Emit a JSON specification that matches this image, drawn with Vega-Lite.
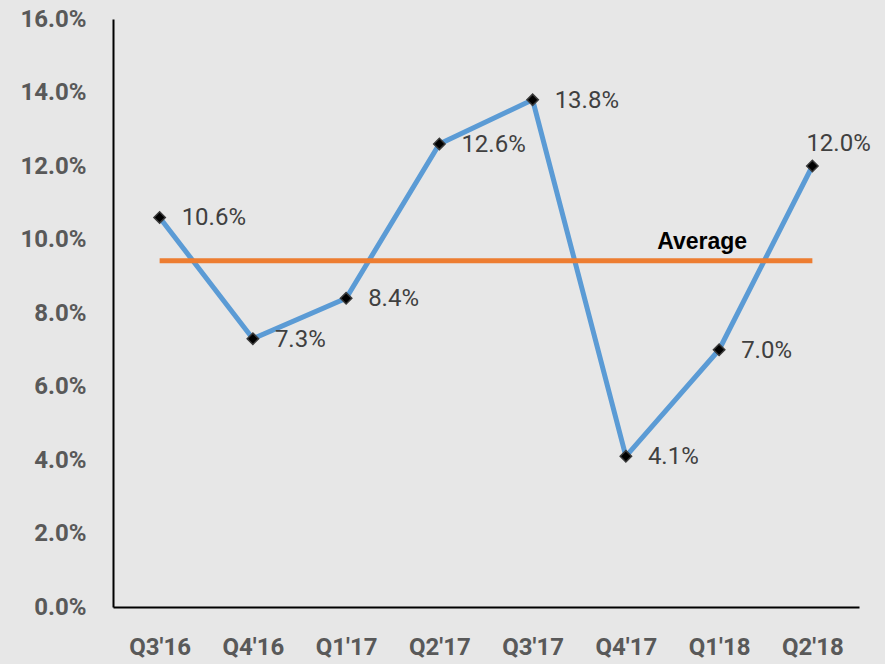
{
  "$schema": "https://vega.github.io/schema/vega-lite/v6.json",
  "width": 746,
  "height": 588,
  "autosize": "none",
  "padding": {"left": 113, "top": 19, "right": 26, "bottom": 57},
  "background": "#e7e7e7",
  "config": {
    "view": {"stroke": null},
    "axis": {
      "grid": false,
      "ticks": false,
      "domainColor": "#000000",
      "domainWidth": 2,
      "labelFont": "Roboto",
      "labelFontWeight": "bold",
      "labelFontSize": 24,
      "labelColor": "#595959",
      "title": null
    }
  },
  "datasets": {
    "series": [
      {"quarter": "Q3'16", "value": 0.106},
      {"quarter": "Q4'16", "value": 0.073},
      {"quarter": "Q1'17", "value": 0.084},
      {"quarter": "Q2'17", "value": 0.126},
      {"quarter": "Q3'17", "value": 0.138},
      {"quarter": "Q4'17", "value": 0.041},
      {"quarter": "Q1'18", "value": 0.070},
      {"quarter": "Q2'18", "value": 0.120}
    ],
    "avg": [
      {"quarter": "Q3'16", "value": 0.0942},
      {"quarter": "Q2'18", "value": 0.0942}
    ],
    "avgLabel": [
      {"quarter": "Q1'18", "value": 0.0942, "label": "Average"}
    ]
  },
  "encoding": {
    "x": {
      "field": "quarter",
      "type": "ordinal",
      "sort": null,
      "scale": {"type": "point", "padding": 0.5, "domain": ["Q3'16", "Q4'16", "Q1'17", "Q2'17", "Q3'17", "Q4'17", "Q1'18", "Q2'18"]},
      "axis": {"labelAngle": 0, "labelPadding": 28}
    },
    "y": {
      "field": "value",
      "type": "quantitative",
      "scale": {"domain": [0, 0.16], "nice": false},
      "axis": {"format": ".1%", "values": [0, 0.02, 0.04, 0.06, 0.08, 0.1, 0.12, 0.14, 0.16], "labelPadding": 27}
    }
  },
  "layer": [
    {
      "data": {"name": "series"},
      "mark": {"type": "line", "color": "#5B9BD5", "strokeWidth": 5}
    },
    {
      "data": {"name": "avg"},
      "mark": {"type": "line", "color": "#ED7D31", "strokeWidth": 5}
    },
    {
      "data": {"name": "series"},
      "mark": {"type": "point", "shape": "diamond", "filled": true, "color": "#000000", "size": 130, "stroke": "#3a3a3a", "strokeWidth": 1.5, "opacity": 1}
    },
    {
      "data": {"name": "series"},
      "transform": [{"filter": "datum.quarter != \"Q2'18\""}],
      "mark": {"type": "text", "align": "left", "baseline": "middle", "dx": 22, "dy": 1, "font": "Roboto", "fontSize": 24, "color": "#404040"},
      "encoding": {"text": {"field": "value", "type": "quantitative", "format": ".1%"}}
    },
    {
      "data": {"name": "series"},
      "transform": [{"filter": "datum.quarter == \"Q2'18\""}],
      "mark": {"type": "text", "align": "left", "baseline": "middle", "dx": -6, "dy": -22, "font": "Roboto", "fontSize": 24, "color": "#404040"},
      "encoding": {"text": {"field": "value", "type": "quantitative", "format": ".1%"}}
    },
    {
      "data": {"name": "avgLabel"},
      "mark": {"type": "text", "align": "center", "baseline": "middle", "dx": -17, "dy": -19, "font": "Liberation Sans", "fontWeight": "bold", "fontSize": 23, "color": "#000000"},
      "encoding": {"text": {"field": "label"}}
    }
  ]
}
